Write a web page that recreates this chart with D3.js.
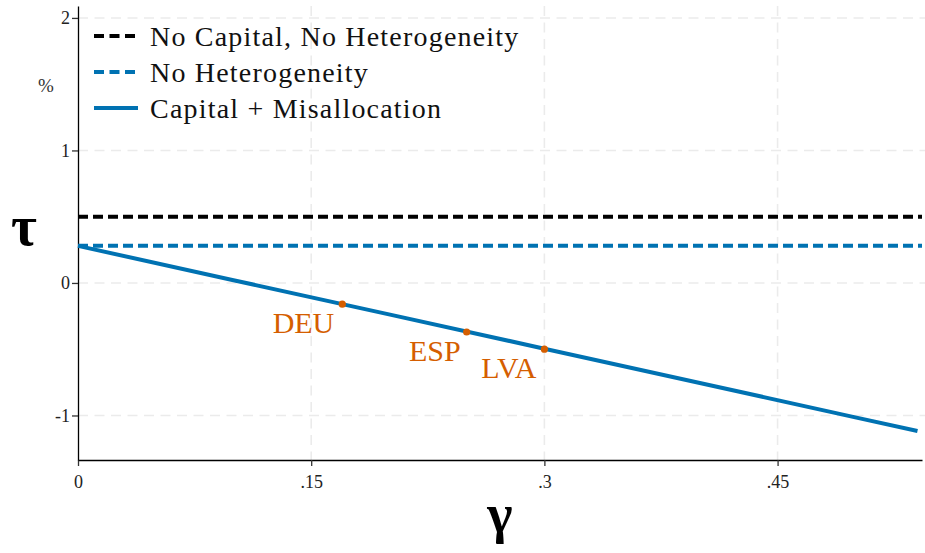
<!DOCTYPE html>
<html><head><meta charset="utf-8">
<script src="https://cdn.jsdelivr.net/npm/d3@7"></script>
<style>body{margin:0;background:#fff}svg{display:block}</style>
</head><body>
<svg id="c" width="925" height="553"></svg>
<script>
const xTicks = [0, 0.15, 0.3, 0.45];
const xTickLabels = ["0", ".15", ".3", ".45"];
const yTicks = [-1, 0, 1, 2];
const yTickLabels = ["-1", "0", "1", "2"];
const seriesNames = ["No Capital, No Heterogeneity", "No Heterogeneity", "Capital + Misallocation"];
const noCapNoHet = 0.5;
const noHet = 0.28;
const gammaGrid = [0, 0.1, 0.2, 0.3, 0.4, 0.5, 0.54];
const capMisalloc = [0.28, 0.021, -0.237, -0.496, -0.755, -1.014, -1.117];
const countries = ["DEU", "ESP", "LVA"];
const countryGamma = [0.17, 0.25, 0.30];
const countryTau = [-0.16, -0.37, -0.50];

const blue = "#0072B2", orange = "#D55E00";
const FONT = '"Liberation Serif"';
const svg = d3.select("#c");
const m = {l: 78, r: 3, t: 6, b: 93};
const W = 925, H = 553;
const xMax = 0.5429;
const x = d3.scaleLinear().domain([0, xMax]).range([m.l, W - m.r]);
const y = d3.scaleLinear().domain([-1.336, 2.09]).range([H - m.b, m.t]);

// grid
const g = svg.append("g");
g.selectAll("line.gy").data(yTicks).join("line").attr("class", "gy")
  .attr("x1", m.l).attr("x2", W).attr("y1", d => y(d)).attr("y2", d => y(d))
  .attr("stroke", "#ebebeb").attr("stroke-width", 1.6).attr("stroke-dasharray", "10,6.5");
g.selectAll("line.gx").data(xTicks.slice(1)).join("line").attr("class", "gx")
  .attr("y1", m.t).attr("y2", H - m.b).attr("x1", d => x(d)).attr("x2", d => x(d))
  .attr("stroke", "#ebebeb").attr("stroke-width", 1.6).attr("stroke-dasharray", "10,6.5");

// axes
const xAxis = svg.append("g").attr("transform", `translate(0,${H - m.b})`)
  .call(d3.axisBottom(x).tickValues(xTicks).tickFormat((d, i) => xTickLabels[i]).tickSize(6).tickSizeOuter(0));
const yAxis = svg.append("g").attr("transform", `translate(${m.l},0)`)
  .call(d3.axisLeft(y).tickValues(yTicks).tickFormat((d, i) => yTickLabels[i]).tickSize(6).tickSizeOuter(0));
[xAxis, yAxis].forEach(a => {
  a.attr("font-family", "Liberation Serif").attr("font-size", 18);
  a.select(".domain").attr("stroke", "#000").attr("stroke-width", 1.3);
  a.selectAll(".tick line").attr("stroke", "#333").attr("stroke-width", 1.3);
  a.selectAll(".tick text").attr("font-family", "Liberation Serif").style("font-family", FONT)
    .attr("font-size", 18).attr("fill", "#222");
});
xAxis.selectAll(".tick text").attr("dy", "1.05em");
yAxis.selectAll(".tick text").attr("x", -8);

// lines
svg.append("line").attr("x1", x(0)).attr("x2", x(xMax))
  .attr("y1", y(noCapNoHet)).attr("y2", y(noCapNoHet))
  .attr("stroke", "#000").attr("stroke-width", 4).attr("stroke-dasharray", "10,5");
svg.append("line").attr("x1", x(0)).attr("x2", x(xMax))
  .attr("y1", y(noHet)).attr("y2", y(noHet))
  .attr("stroke", blue).attr("stroke-width", 4).attr("stroke-dasharray", "10,5");
svg.append("path").datum(gammaGrid.map((gg, i) => [gg, capMisalloc[i]]))
  .attr("d", d3.line().x(d => x(d[0])).y(d => y(d[1])))
  .attr("fill", "none").attr("stroke", blue).attr("stroke-width", 4);

// points & labels
const labDx = [-8, -6, -8];
countries.forEach((c, i) => {
  svg.append("circle").attr("cx", x(countryGamma[i])).attr("cy", y(countryTau[i])).attr("r", 3.6).attr("fill", orange);
  svg.append("text").attr("x", x(countryGamma[i]) + labDx[i]).attr("y", y(countryTau[i]) + 29)
    .attr("text-anchor", "end").style("font-family", FONT).attr("font-size", 30).attr("fill", orange).text(c);
});

// legend
const legY = [36, 72, 108];
const legStyle = [["#000", "10,5.5"], [blue, "10,5.5"], [blue, null]];
seriesNames.forEach((s, i) => {
  svg.append("line").attr("x1", 94).attr("x2", 138).attr("y1", legY[i]).attr("y2", legY[i])
    .attr("stroke", legStyle[i][0]).attr("stroke-width", 4).attr("stroke-dasharray", legStyle[i][1]);
  svg.append("text").attr("x", 150).attr("y", legY[i] + 10).style("font-family", FONT)
    .attr("font-size", 28).style("letter-spacing", "1.2px").attr("fill", "#111").text(s);
});

// axis titles
svg.append("text").attr("x", 46).attr("y", 92).attr("text-anchor", "middle")
  .style("font-family", FONT).attr("font-size", 19).attr("fill", "#333").text("%");
svg.append("text").attr("x", 24).attr("y", 245).attr("text-anchor", "middle")
  .style("font-family", FONT).attr("font-size", 56).attr("font-weight", "bold").attr("fill", "#000").text("τ");
svg.append("text").attr("x", 500).attr("y", 532).attr("text-anchor", "middle")
  .style("font-family", FONT).attr("font-size", 54).attr("font-weight", "bold").attr("fill", "#000").text("γ");
</script>
</body></html>
